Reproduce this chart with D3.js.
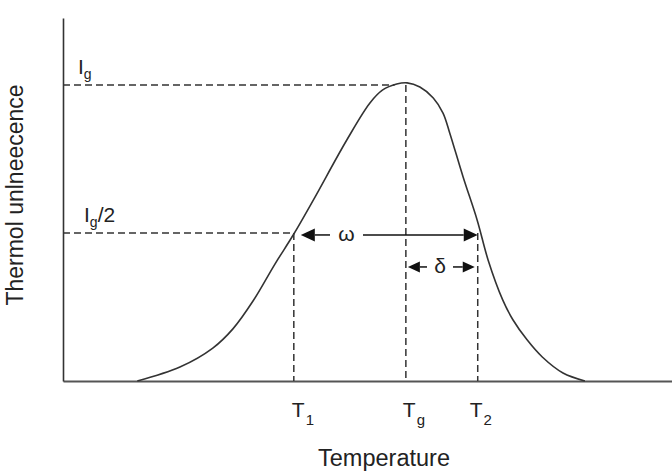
<!DOCTYPE html>
<html>
<head>
<meta charset="utf-8">
<script src="https://cdn.jsdelivr.net/npm/d3@7"></script>
<style>
  body { margin: 0; background: #fff; }
  text { font-family: "Liberation Sans", Arial, sans-serif; fill: #222; }
</style>
</head>
<body>
<svg id="chart"></svg>
<script>
var width = 672;
var height = 473;

// glow curve (temperature, intensity relative to Ig)
const curveT = [12.2, 19.2, 24.6, 27.9, 31.2, 34.8, 37.8, 41.1, 46.6, 50.4, 52.5, 54.8, 56.5,
                58.6, 60.8, 62.4, 63.5, 65.7, 68.0, 69.8, 72.2, 73.9, 76.2, 78.7, 82.1, 85.7];
const curveI = [0, 0.047, 0.111, 0.176, 0.270, 0.395, 0.493, 0.611, 0.814, 0.939, 0.983, 1.003, 1.007,
                0.993, 0.956, 0.905, 0.838, 0.689, 0.544, 0.409, 0.274, 0.206, 0.139, 0.081, 0.027, 0];

const markNames = [["T", "1"], ["T", "g"], ["T", "2"]];
const markT = [37.9, 56.3, 68.1];
const levelNames = [["I", "g", ""], ["I", "g", "/2"]];
const levelI = [1, 0.5];

const svg = d3.select("#chart")
    .attr("width", width)
    .attr("height", height);

const x = d3.scaleLinear().domain([0, 100]).range([63, 672]);
const y = d3.scaleLinear().domain([0, 1.226]).range([381, 18]);

const pts = curveT.map((t, i) => [t, curveI[i]]);
const peak = d3.maxIndex(curveI);

// where the rising side reaches a level
function riseAt(v) {
    for (let i = 1; i <= peak; i++) {
        if (curveI[i] >= v) {
            let f = (v - curveI[i-1]) / (curveI[i] - curveI[i-1]);
            return curveT[i-1] + f * (curveT[i] - curveT[i-1]);
        }
    }
    return curveT[peak];
}

// axes
svg.append("g")
    .attr("transform", `translate(0,${y(0)})`)
    .call(d3.axisBottom(x).ticks(0).tickSizeOuter(0))
    .call(g => g.select(".domain").attr("stroke", "#555").attr("stroke-width", 2));
svg.append("g")
    .attr("transform", `translate(${x(0)},0)`)
    .call(d3.axisLeft(y).ticks(0).tickSizeOuter(0))
    .call(g => g.select(".domain").attr("stroke", "#333").attr("stroke-width", 1.6));

// dashed guides
let guides = svg.append("g")
    .attr("stroke", "#333")
    .attr("stroke-width", 1.5)
    .attr("stroke-dasharray", "7,4")
    .attr("fill", "none");

levelI.forEach(v => {
    guides.append("line")
        .attr("x1", x(0)).attr("x2", x(riseAt(v)))
        .attr("y1", y(v)).attr("y2", y(v));
});
const markTop = [levelI[1], levelI[0], levelI[1]];
markT.forEach((t, i) => {
    guides.append("line")
        .attr("x1", x(t)).attr("x2", x(t))
        .attr("y1", y(markTop[i])).attr("y2", y(0));
});

// curve
svg.append("path")
    .datum(pts)
    .attr("fill", "none")
    .attr("stroke", "#333")
    .attr("stroke-width", 1.6)
    .attr("d", d3.line().x(d => x(d[0])).y(d => y(d[1])).curve(d3.curveCatmullRom.alpha(0.5)));

// level labels
levelNames.forEach((n, i) => {
    let t = svg.append("text")
        .attr("x", i === 0 ? 78 : 84)
        .attr("y", y(levelI[i]) - 11)
        .attr("font-size", 21);
    t.append("tspan").text(n[0]);
    t.append("tspan").attr("font-size", 14).attr("dy", 5).text(n[1]);
    if (n[2]) t.append("tspan").attr("dy", -5).text(n[2]);
});

// temperature labels
const labelDx = [-2, -3, -8];
markNames.forEach((n, i) => {
    let t = svg.append("text")
        .attr("x", x(markT[i]) + labelDx[i])
        .attr("y", 417)
        .attr("font-size", 21);
    t.append("tspan").text(n[0]);
    t.append("tspan").attr("font-size", 15).attr("dx", 1).attr("dy", 8).text(n[1]);
});

// width arrows
function arrow(x0, x1, yy, gapL, gapR, head, half, label) {
    let g = svg.append("g");
    g.append("line").attr("x1", x0 + head).attr("x2", gapL).attr("y1", yy).attr("y2", yy)
        .attr("stroke", "#111").attr("stroke-width", 1.5);
    g.append("line").attr("x1", gapR).attr("x2", x1 - head).attr("y1", yy).attr("y2", yy)
        .attr("stroke", "#111").attr("stroke-width", 1.5);
    g.append("path").attr("fill", "#111")
        .attr("d", `M${x0},${yy}L${x0 + head},${yy - half}L${x0 + head},${yy + half}Z`);
    g.append("path").attr("fill", "#111")
        .attr("d", `M${x1},${yy}L${x1 - head},${yy - half}L${x1 - head},${yy + half}Z`);
    g.append("text")
        .attr("x", (gapL + gapR) / 2)
        .attr("y", yy + 6)
        .attr("text-anchor", "middle")
        .attr("font-size", 21)
        .text(label);
}
let yw = y(levelI[1]) + 2;
arrow(x(markT[0]) + 7, x(markT[2]), yw, 330, 363, 14, 6.5, "ω");
arrow(x(markT[1]) + 2, x(markT[2]) - 3, yw + 32, 427, 453, 12, 5.5, "δ");

// axis titles
svg.append("text")
    .attr("x", 384)
    .attr("y", 466)
    .attr("text-anchor", "middle")
    .attr("font-size", 23.5)
    .text("Temperature");
svg.append("text")
    .attr("transform", "translate(23,195) rotate(-90)")
    .attr("text-anchor", "middle")
    .attr("font-size", 23)
    .text("Thermol unlneecence");
</script>
</body>
</html>
